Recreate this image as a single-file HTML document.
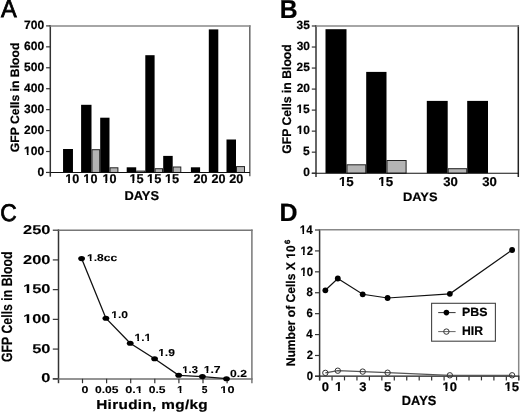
<!DOCTYPE html>
<html><head><meta charset="utf-8"><style>
html,body{margin:0;padding:0;background:#fff;}
svg{display:block;will-change:transform;}
text{font-family:"Liberation Sans", sans-serif;text-rendering:geometricPrecision;}
</style></head><body>
<svg width="520" height="412" viewBox="0 0 520 412">
<rect width="520" height="412" fill="#fff"/>
<text transform="translate(1.04,17.20) scale(0.947,1)" font-size="24.87" font-weight="normal" stroke="#000" stroke-width="0.8">A</text>
<text transform="translate(0.26,220.75) scale(0.937,1)" font-size="24.30" font-weight="normal" stroke="#000" stroke-width="0.8">C</text>
<text transform="translate(279.83,17.50) scale(0.956,1)" font-size="25.89" font-weight="bold" stroke="#000" stroke-width="0.2">B</text>
<text transform="translate(279.61,221.30) scale(0.998,1)" font-size="25.02" font-weight="bold" stroke="#000" stroke-width="0.2">D</text>
<rect x="63.05" y="149.00" width="9.91" height="23.45" fill="#000"/>
<rect x="81.10" y="104.80" width="10.40" height="67.65" fill="#000"/>
<rect x="92.00" y="149.70" width="7.70" height="22.75" fill="#b4b4b4" stroke="#222" stroke-width="1"/>
<rect x="100.20" y="117.70" width="9.30" height="54.75" fill="#000"/>
<rect x="110.00" y="167.80" width="7.90" height="4.65" fill="#b4b4b4" stroke="#222" stroke-width="1"/>
<rect x="126.70" y="167.30" width="9.50" height="5.15" fill="#000"/>
<rect x="136.70" y="171.10" width="8.10" height="1.35" fill="#b4b4b4" stroke="#222" stroke-width="1"/>
<rect x="145.30" y="55.20" width="9.30" height="117.25" fill="#000"/>
<rect x="155.10" y="168.70" width="7.40" height="3.75" fill="#b4b4b4" stroke="#222" stroke-width="1"/>
<rect x="163.20" y="155.90" width="9.50" height="16.55" fill="#000"/>
<rect x="173.20" y="167.00" width="7.60" height="5.45" fill="#b4b4b4" stroke="#222" stroke-width="1"/>
<rect x="190.90" y="167.30" width="9.20" height="5.15" fill="#000"/>
<rect x="208.80" y="29.40" width="9.50" height="143.05" fill="#000"/>
<rect x="226.50" y="139.50" width="9.50" height="32.95" fill="#000"/>
<rect x="236.50" y="166.60" width="8.00" height="5.85" fill="#b4b4b4" stroke="#222" stroke-width="1"/>
<line x1="50.30" y1="25.20" x2="50.30" y2="176.70" stroke="#333333" stroke-width="1.5"/>
<line x1="249.80" y1="25.20" x2="249.80" y2="176.20" stroke="#666" stroke-width="1.5"/>
<line x1="50.00" y1="25.90" x2="250.50" y2="25.90" stroke="#888888" stroke-width="1.5"/>
<line x1="46.00" y1="172.45" x2="250.00" y2="172.45" stroke="#111" stroke-width="1.1"/>
<line x1="46.10" y1="172.45" x2="50.30" y2="172.45" stroke="#333333" stroke-width="1.2"/>
<text transform="translate(37.50,175.70) scale(1.000,1)" font-size="12.04" font-weight="bold" stroke="#000" stroke-width="0.2">0</text>
<line x1="46.10" y1="151.51" x2="50.30" y2="151.51" stroke="#333333" stroke-width="1.2"/>
<g transform="translate(24.10,154.76) scale(1.000,1)"><text font-size="12.04" font-weight="bold" stroke="#000" stroke-width="0.2">100</text><rect x="-0.44" y="-2.13" width="3.23" height="3.03" fill="#fff"/><rect x="4.49" y="-2.13" width="2.57" height="3.03" fill="#fff"/></g>
<line x1="46.10" y1="130.58" x2="50.30" y2="130.58" stroke="#333333" stroke-width="1.2"/>
<text transform="translate(24.10,133.83) scale(1.000,1)" font-size="12.04" font-weight="bold" stroke="#000" stroke-width="0.2">200</text>
<line x1="46.10" y1="109.64" x2="50.30" y2="109.64" stroke="#333333" stroke-width="1.2"/>
<text transform="translate(24.10,112.89) scale(1.000,1)" font-size="12.04" font-weight="bold" stroke="#000" stroke-width="0.2">300</text>
<line x1="46.10" y1="88.71" x2="50.30" y2="88.71" stroke="#333333" stroke-width="1.2"/>
<text transform="translate(24.10,91.96) scale(1.000,1)" font-size="12.04" font-weight="bold" stroke="#000" stroke-width="0.2">400</text>
<line x1="46.10" y1="67.77" x2="50.30" y2="67.77" stroke="#333333" stroke-width="1.2"/>
<text transform="translate(24.10,71.02) scale(1.000,1)" font-size="12.04" font-weight="bold" stroke="#000" stroke-width="0.2">500</text>
<line x1="46.10" y1="46.84" x2="50.30" y2="46.84" stroke="#333333" stroke-width="1.2"/>
<text transform="translate(24.10,50.09) scale(1.000,1)" font-size="12.04" font-weight="bold" stroke="#000" stroke-width="0.2">600</text>
<line x1="46.10" y1="25.90" x2="50.30" y2="25.90" stroke="#333333" stroke-width="1.2"/>
<text transform="translate(24.10,29.15) scale(1.000,1)" font-size="12.04" font-weight="bold" stroke="#000" stroke-width="0.2">700</text>
<g transform="translate(65.22,183.20) scale(1.000,1)"><text font-size="12.62" font-weight="bold" stroke="#000" stroke-width="0.2">10</text><rect x="-0.41" y="-2.19" width="3.32" height="3.09" fill="#fff"/><rect x="4.70" y="-2.19" width="2.66" height="3.09" fill="#fff"/></g>
<g transform="translate(83.37,183.20) scale(1.000,1)"><text font-size="12.62" font-weight="bold" stroke="#000" stroke-width="0.2">10</text><rect x="-0.41" y="-2.19" width="3.32" height="3.09" fill="#fff"/><rect x="4.70" y="-2.19" width="2.66" height="3.09" fill="#fff"/></g>
<g transform="translate(102.42,183.20) scale(1.000,1)"><text font-size="12.62" font-weight="bold" stroke="#000" stroke-width="0.2">10</text><rect x="-0.41" y="-2.19" width="3.32" height="3.09" fill="#fff"/><rect x="4.70" y="-2.19" width="2.66" height="3.09" fill="#fff"/></g>
<g transform="translate(129.39,183.20) scale(1.000,1)"><text font-size="12.80" font-weight="bold" stroke="#000" stroke-width="0.2">15</text><rect x="-0.39" y="-2.21" width="3.36" height="3.11" fill="#fff"/><rect x="4.77" y="-2.21" width="2.69" height="3.11" fill="#fff"/></g>
<g transform="translate(147.04,183.20) scale(1.000,1)"><text font-size="12.80" font-weight="bold" stroke="#000" stroke-width="0.2">15</text><rect x="-0.39" y="-2.21" width="3.36" height="3.11" fill="#fff"/><rect x="4.77" y="-2.21" width="2.69" height="3.11" fill="#fff"/></g>
<g transform="translate(164.89,183.20) scale(1.000,1)"><text font-size="12.80" font-weight="bold" stroke="#000" stroke-width="0.2">15</text><rect x="-0.39" y="-2.21" width="3.36" height="3.11" fill="#fff"/><rect x="4.77" y="-2.21" width="2.69" height="3.11" fill="#fff"/></g>
<text transform="translate(193.43,183.20) scale(1.000,1)" font-size="12.62" font-weight="bold" stroke="#000" stroke-width="0.2">20</text>
<text transform="translate(211.43,183.20) scale(1.000,1)" font-size="12.62" font-weight="bold" stroke="#000" stroke-width="0.2">20</text>
<text transform="translate(229.28,183.20) scale(1.000,1)" font-size="12.62" font-weight="bold" stroke="#000" stroke-width="0.2">20</text>
<text transform="translate(124.43,199.75) scale(0.997,1)" font-size="12.90" font-weight="bold" stroke="#000" stroke-width="0.2">DAYS</text>
<text transform="translate(19.20,152.19) rotate(-90) scale(1.006,1)" font-size="12.14" font-weight="bold" stroke="#000" stroke-width="0.2">GFP Cells in Blood</text>
<rect x="325.50" y="29.20" width="21.00" height="144.00" fill="#000"/>
<rect x="366.20" y="71.90" width="20.30" height="101.30" fill="#000"/>
<rect x="426.80" y="100.90" width="20.90" height="72.30" fill="#000"/>
<rect x="467.20" y="100.90" width="20.80" height="72.30" fill="#000"/>
<rect x="347.00" y="164.80" width="18.70" height="8.40" fill="#b4b4b4" stroke="#222" stroke-width="1"/>
<rect x="387.00" y="160.50" width="19.10" height="12.70" fill="#b4b4b4" stroke="#222" stroke-width="1"/>
<rect x="448.20" y="168.70" width="18.50" height="4.50" fill="#b4b4b4" stroke="#222" stroke-width="1"/>
<line x1="316.00" y1="25.20" x2="316.00" y2="177.00" stroke="#333333" stroke-width="1.5"/>
<line x1="518.30" y1="25.20" x2="518.30" y2="177.00" stroke="#222" stroke-width="1.5"/>
<line x1="315.50" y1="26.00" x2="519.00" y2="26.00" stroke="#888888" stroke-width="1.5"/>
<line x1="311.80" y1="173.20" x2="519.00" y2="173.20" stroke="#111" stroke-width="1.1"/>
<line x1="311.80" y1="173.20" x2="316.00" y2="173.20" stroke="#333333" stroke-width="1.2"/>
<text transform="translate(303.32,176.35) scale(1.000,1)" font-size="11.90" font-weight="bold" stroke="#000" stroke-width="0.2">0</text>
<line x1="311.80" y1="152.17" x2="316.00" y2="152.17" stroke="#333333" stroke-width="1.2"/>
<text transform="translate(303.08,155.32) scale(1.000,1)" font-size="12.07" font-weight="bold" stroke="#000" stroke-width="0.2">5</text>
<line x1="311.80" y1="131.14" x2="316.00" y2="131.14" stroke="#333333" stroke-width="1.2"/>
<g transform="translate(296.72,134.29) scale(1.000,1)"><text font-size="11.90" font-weight="bold" stroke="#000" stroke-width="0.2">10</text><rect x="-0.45" y="-2.11" width="3.20" height="3.01" fill="#fff"/><rect x="4.43" y="-2.11" width="2.55" height="3.01" fill="#fff"/></g>
<line x1="311.80" y1="110.11" x2="316.00" y2="110.11" stroke="#333333" stroke-width="1.2"/>
<g transform="translate(296.38,113.26) scale(1.000,1)"><text font-size="12.07" font-weight="bold" stroke="#000" stroke-width="0.2">15</text><rect x="-0.44" y="-2.13" width="3.23" height="3.03" fill="#fff"/><rect x="4.50" y="-2.13" width="2.58" height="3.03" fill="#fff"/></g>
<line x1="311.80" y1="89.09" x2="316.00" y2="89.09" stroke="#333333" stroke-width="1.2"/>
<text transform="translate(296.72,92.24) scale(1.000,1)" font-size="11.90" font-weight="bold" stroke="#000" stroke-width="0.2">20</text>
<line x1="311.80" y1="68.06" x2="316.00" y2="68.06" stroke="#333333" stroke-width="1.2"/>
<text transform="translate(296.57,71.21) scale(1.000,1)" font-size="11.90" font-weight="bold" stroke="#000" stroke-width="0.2">25</text>
<line x1="311.80" y1="47.03" x2="316.00" y2="47.03" stroke="#333333" stroke-width="1.2"/>
<text transform="translate(296.72,50.18) scale(1.000,1)" font-size="11.90" font-weight="bold" stroke="#000" stroke-width="0.2">30</text>
<line x1="311.80" y1="26.00" x2="316.00" y2="26.00" stroke="#333333" stroke-width="1.2"/>
<text transform="translate(296.57,29.15) scale(1.000,1)" font-size="11.90" font-weight="bold" stroke="#000" stroke-width="0.2">35</text>
<g transform="translate(338.92,185.75) scale(1.020,1)"><text font-size="13.09" font-weight="bold" stroke="#000" stroke-width="0.2">15</text><rect x="-0.35" y="-2.24" width="3.38" height="3.14" fill="#fff"/><rect x="4.88" y="-2.24" width="2.72" height="3.14" fill="#fff"/></g>
<g transform="translate(378.32,185.75) scale(1.020,1)"><text font-size="13.09" font-weight="bold" stroke="#000" stroke-width="0.2">15</text><rect x="-0.35" y="-2.24" width="3.38" height="3.14" fill="#fff"/><rect x="4.88" y="-2.24" width="2.72" height="3.14" fill="#fff"/></g>
<text transform="translate(443.21,185.75) scale(1.020,1)" font-size="12.90" font-weight="bold" stroke="#000" stroke-width="0.2">30</text>
<text transform="translate(482.31,185.75) scale(1.020,1)" font-size="12.90" font-weight="bold" stroke="#000" stroke-width="0.2">30</text>
<text transform="translate(402.93,200.80) scale(1.044,1)" font-size="12.33" font-weight="bold" stroke="#000" stroke-width="0.2">DAYS</text>
<text transform="translate(290.70,153.79) rotate(-90) scale(0.972,1)" font-size="12.55" font-weight="bold" stroke="#000" stroke-width="0.2">GFP Cells in Blood</text>
<line x1="58.50" y1="229.50" x2="58.50" y2="383.20" stroke="#333333" stroke-width="1.5"/>
<line x1="251.90" y1="229.50" x2="251.90" y2="383.20" stroke="#777" stroke-width="1.5"/>
<line x1="58.00" y1="230.20" x2="252.60" y2="230.20" stroke="#777" stroke-width="1.5"/>
<line x1="52.80" y1="379.00" x2="252.60" y2="379.00" stroke="#707070" stroke-width="1.5"/>
<line x1="52.80" y1="378.80" x2="58.50" y2="378.80" stroke="#333333" stroke-width="1.2"/>
<text transform="translate(41.32,382.40) scale(1.290,1)" font-size="12.76" font-weight="bold" stroke="#000" stroke-width="0.1">0</text>
<line x1="52.80" y1="349.08" x2="58.50" y2="349.08" stroke="#333333" stroke-width="1.2"/>
<text transform="translate(32.19,352.68) scale(1.290,1)" font-size="12.76" font-weight="bold" stroke="#000" stroke-width="0.1">50</text>
<line x1="52.80" y1="319.36" x2="58.50" y2="319.36" stroke="#333333" stroke-width="1.2"/>
<g transform="translate(23.01,322.96) scale(1.290,1)"><text font-size="12.76" font-weight="bold" stroke="#000" stroke-width="0.1">100</text><rect x="-0.13" y="-2.20" width="3.08" height="3.10" fill="#fff"/><rect x="4.75" y="-2.20" width="2.53" height="3.10" fill="#fff"/></g>
<line x1="52.80" y1="289.64" x2="58.50" y2="289.64" stroke="#333333" stroke-width="1.2"/>
<g transform="translate(23.01,293.24) scale(1.290,1)"><text font-size="12.76" font-weight="bold" stroke="#000" stroke-width="0.1">150</text><rect x="-0.13" y="-2.20" width="3.08" height="3.10" fill="#fff"/><rect x="4.75" y="-2.20" width="2.53" height="3.10" fill="#fff"/></g>
<line x1="52.80" y1="259.92" x2="58.50" y2="259.92" stroke="#333333" stroke-width="1.2"/>
<text transform="translate(23.01,263.52) scale(1.290,1)" font-size="12.76" font-weight="bold" stroke="#000" stroke-width="0.1">200</text>
<line x1="52.80" y1="230.20" x2="58.50" y2="230.20" stroke="#333333" stroke-width="1.2"/>
<text transform="translate(23.01,233.80) scale(1.290,1)" font-size="12.76" font-weight="bold" stroke="#000" stroke-width="0.1">250</text>
<line x1="82.50" y1="378.80" x2="82.50" y2="383.20" stroke="#333333" stroke-width="1.2"/>
<line x1="106.60" y1="378.80" x2="106.60" y2="383.20" stroke="#333333" stroke-width="1.2"/>
<line x1="130.70" y1="378.80" x2="130.70" y2="383.20" stroke="#333333" stroke-width="1.2"/>
<line x1="154.80" y1="378.80" x2="154.80" y2="383.20" stroke="#333333" stroke-width="1.2"/>
<line x1="178.90" y1="378.80" x2="178.90" y2="383.20" stroke="#333333" stroke-width="1.2"/>
<line x1="203.00" y1="378.80" x2="203.00" y2="383.20" stroke="#333333" stroke-width="1.2"/>
<line x1="227.10" y1="378.80" x2="227.10" y2="383.20" stroke="#333333" stroke-width="1.2"/>
<text transform="translate(81.40,392.90) scale(1.256,1)" font-size="9.89" font-weight="bold" stroke="#000" stroke-width="0.1">0</text>
<text transform="translate(95.07,392.90) scale(1.220,1)" font-size="9.89" font-weight="bold" stroke="#000" stroke-width="0.1">0.05</text>
<g transform="translate(125.29,392.90) scale(1.284,1)"><text font-size="9.89" font-weight="bold" stroke="#000" stroke-width="0.1">0.1</text><rect x="7.94" y="-1.91" width="2.60" height="2.81" fill="#fff"/><rect x="11.94" y="-1.91" width="2.08" height="2.81" fill="#fff"/></g>
<text transform="translate(148.72,392.90) scale(1.223,1)" font-size="9.89" font-weight="bold" stroke="#000" stroke-width="0.1">0.5</text>
<text transform="translate(201.79,392.90) scale(1.021,1)" font-size="10.04" font-weight="bold" stroke="#000" stroke-width="0.1">5</text>
<g transform="translate(220.34,392.90) scale(1.281,1)"><text font-size="9.89" font-weight="bold" stroke="#000" stroke-width="0.1">10</text><rect x="-0.31" y="-1.91" width="2.60" height="2.81" fill="#fff"/><rect x="3.69" y="-1.91" width="2.08" height="2.81" fill="#fff"/></g>
<g transform="translate(177.07,392.90) scale(1.150,1)"><text font-size="10.04" font-weight="bold" stroke="#000" stroke-width="0.1">1</text><rect x="-0.41" y="-1.92" width="2.73" height="2.82" fill="#fff"/><rect x="3.74" y="-1.92" width="2.16" height="2.82" fill="#fff"/></g>
<text transform="translate(96.17,409.00) scale(1.170,1)" font-size="13.10" font-weight="bold" letter-spacing="0.284" stroke="#000" stroke-width="0.2">Hirudin, mg/kg</text>
<text transform="translate(12.00,361.99) rotate(-90) scale(0.826,1)" font-size="14.90" font-weight="bold" stroke="#000" stroke-width="0.15">GFP Cells in Blood</text>
<polyline points="81.6,258.6 105.9,318.2 130.2,343.3 154.6,358.8 178.7,375.3 202.4,376.6 226.5,378.7" fill="none" stroke="#111" stroke-width="1.3"/>
<ellipse cx="81.6" cy="258.6" rx="3.4" ry="2.55" fill="#000"/>
<ellipse cx="105.9" cy="318.2" rx="3.4" ry="2.55" fill="#000"/>
<ellipse cx="130.2" cy="343.3" rx="3.4" ry="2.55" fill="#000"/>
<ellipse cx="154.6" cy="358.8" rx="3.4" ry="2.55" fill="#000"/>
<ellipse cx="178.7" cy="375.3" rx="3.4" ry="2.55" fill="#000"/>
<ellipse cx="202.4" cy="376.6" rx="3.4" ry="2.55" fill="#000"/>
<ellipse cx="226.5" cy="378.7" rx="3.4" ry="2.55" fill="#000"/>
<g transform="translate(87.08,260.50) scale(1.218,1)"><text font-size="9.89" font-weight="bold" stroke="#000" stroke-width="0.1">1.8cc</text><rect x="-0.36" y="-1.91" width="2.65" height="2.81" fill="#fff"/><rect x="3.69" y="-1.91" width="2.11" height="2.81" fill="#fff"/></g>
<g transform="translate(111.18,317.50) scale(1.222,1)"><text font-size="9.89" font-weight="bold" stroke="#000" stroke-width="0.1">1.0</text><rect x="-0.36" y="-1.91" width="2.64" height="2.81" fill="#fff"/><rect x="3.69" y="-1.91" width="2.11" height="2.81" fill="#fff"/></g>
<g transform="translate(134.59,340.80) scale(1.158,1)"><text font-size="10.33" font-weight="bold" stroke="#000" stroke-width="0.1">1.1</text><rect x="-0.39" y="-1.95" width="2.77" height="2.85" fill="#fff"/><rect x="3.85" y="-1.95" width="2.21" height="2.85" fill="#fff"/><rect x="8.23" y="-1.95" width="2.77" height="2.85" fill="#fff"/><rect x="12.46" y="-1.95" width="2.21" height="2.85" fill="#fff"/></g>
<g transform="translate(158.18,356.20) scale(1.200,1)"><text font-size="10.04" font-weight="bold" stroke="#000" stroke-width="0.1">1.9</text><rect x="-0.37" y="-1.92" width="2.69" height="2.82" fill="#fff"/><rect x="3.74" y="-1.92" width="2.14" height="2.82" fill="#fff"/></g>
<g transform="translate(182.33,373.10) scale(1.139,1)"><text font-size="9.89" font-weight="bold" stroke="#000" stroke-width="0.1">1.3</text><rect x="-0.43" y="-1.91" width="2.72" height="2.81" fill="#fff"/><rect x="3.69" y="-1.91" width="2.15" height="2.81" fill="#fff"/></g>
<g transform="translate(203.67,373.10) scale(1.215,1)"><text font-size="10.04" font-weight="bold" stroke="#000" stroke-width="0.1">1.7</text><rect x="-0.36" y="-1.92" width="2.67" height="2.82" fill="#fff"/><rect x="3.74" y="-1.92" width="2.13" height="2.82" fill="#fff"/></g>
<text transform="translate(230.11,376.50) scale(1.192,1)" font-size="10.18" font-weight="bold" stroke="#000" stroke-width="0.1">0.2</text>
<line x1="319.60" y1="229.10" x2="319.60" y2="380.40" stroke="#333333" stroke-width="1.5"/>
<line x1="518.70" y1="229.10" x2="518.70" y2="380.40" stroke="#888" stroke-width="1.5"/>
<line x1="319.00" y1="229.80" x2="519.40" y2="229.80" stroke="#888888" stroke-width="1.5"/>
<line x1="315.00" y1="376.20" x2="519.40" y2="376.20" stroke="#1a1a1a" stroke-width="1.2"/>
<line x1="315.00" y1="376.40" x2="319.60" y2="376.40" stroke="#333333" stroke-width="1.2"/>
<text transform="translate(306.67,380.10) scale(0.940,1)" font-size="12.04" font-weight="bold" stroke="#000" stroke-width="0.2">0</text>
<line x1="315.00" y1="355.49" x2="319.60" y2="355.49" stroke="#333333" stroke-width="1.2"/>
<text transform="translate(306.67,359.19) scale(0.940,1)" font-size="12.04" font-weight="bold" stroke="#000" stroke-width="0.2">2</text>
<line x1="315.00" y1="334.57" x2="319.60" y2="334.57" stroke="#333333" stroke-width="1.2"/>
<text transform="translate(306.18,338.27) scale(0.940,1)" font-size="12.22" font-weight="bold" stroke="#000" stroke-width="0.2">4</text>
<line x1="315.00" y1="313.66" x2="319.60" y2="313.66" stroke="#333333" stroke-width="1.2"/>
<text transform="translate(306.61,317.36) scale(0.940,1)" font-size="12.04" font-weight="bold" stroke="#000" stroke-width="0.2">6</text>
<line x1="315.00" y1="292.74" x2="319.60" y2="292.74" stroke="#333333" stroke-width="1.2"/>
<text transform="translate(306.56,296.44) scale(0.940,1)" font-size="12.04" font-weight="bold" stroke="#000" stroke-width="0.2">8</text>
<line x1="315.00" y1="271.83" x2="319.60" y2="271.83" stroke="#333333" stroke-width="1.2"/>
<g transform="translate(300.39,275.53) scale(0.940,1)"><text font-size="12.04" font-weight="bold" stroke="#000" stroke-width="0.2">10</text><rect x="-0.52" y="-2.13" width="3.30" height="3.03" fill="#fff"/><rect x="4.49" y="-2.13" width="2.62" height="3.03" fill="#fff"/></g>
<line x1="315.00" y1="250.91" x2="319.60" y2="250.91" stroke="#333333" stroke-width="1.2"/>
<g transform="translate(300.39,254.61) scale(0.940,1)"><text font-size="12.04" font-weight="bold" stroke="#000" stroke-width="0.2">12</text><rect x="-0.52" y="-2.13" width="3.30" height="3.03" fill="#fff"/><rect x="4.49" y="-2.13" width="2.62" height="3.03" fill="#fff"/></g>
<line x1="315.00" y1="230.00" x2="319.60" y2="230.00" stroke="#333333" stroke-width="1.2"/>
<g transform="translate(299.81,233.70) scale(0.940,1)"><text font-size="12.22" font-weight="bold" stroke="#000" stroke-width="0.2">14</text><rect x="-0.51" y="-2.15" width="3.33" height="3.05" fill="#fff"/><rect x="4.55" y="-2.15" width="2.64" height="3.05" fill="#fff"/></g>
<line x1="319.60" y1="376.40" x2="319.60" y2="380.40" stroke="#333333" stroke-width="1.2"/>
<line x1="332.05" y1="376.40" x2="332.05" y2="380.40" stroke="#333333" stroke-width="1.2"/>
<line x1="344.50" y1="376.40" x2="344.50" y2="380.40" stroke="#333333" stroke-width="1.2"/>
<line x1="356.95" y1="376.40" x2="356.95" y2="380.40" stroke="#333333" stroke-width="1.2"/>
<line x1="369.40" y1="376.40" x2="369.40" y2="380.40" stroke="#333333" stroke-width="1.2"/>
<line x1="381.85" y1="376.40" x2="381.85" y2="380.40" stroke="#333333" stroke-width="1.2"/>
<line x1="394.30" y1="376.40" x2="394.30" y2="380.40" stroke="#333333" stroke-width="1.2"/>
<line x1="406.75" y1="376.40" x2="406.75" y2="380.40" stroke="#333333" stroke-width="1.2"/>
<line x1="419.20" y1="376.40" x2="419.20" y2="380.40" stroke="#333333" stroke-width="1.2"/>
<line x1="431.65" y1="376.40" x2="431.65" y2="380.40" stroke="#333333" stroke-width="1.2"/>
<line x1="444.10" y1="376.40" x2="444.10" y2="380.40" stroke="#333333" stroke-width="1.2"/>
<line x1="456.55" y1="376.40" x2="456.55" y2="380.40" stroke="#333333" stroke-width="1.2"/>
<line x1="469.00" y1="376.40" x2="469.00" y2="380.40" stroke="#333333" stroke-width="1.2"/>
<line x1="481.45" y1="376.40" x2="481.45" y2="380.40" stroke="#333333" stroke-width="1.2"/>
<line x1="493.90" y1="376.40" x2="493.90" y2="380.40" stroke="#333333" stroke-width="1.2"/>
<line x1="506.35" y1="376.40" x2="506.35" y2="380.40" stroke="#333333" stroke-width="1.2"/>
<line x1="518.80" y1="376.40" x2="518.80" y2="380.40" stroke="#333333" stroke-width="1.2"/>
<text transform="translate(321.75,391.00) scale(1.040,1)" font-size="12.47" font-weight="bold" stroke="#000" stroke-width="0.2">0</text>
<g transform="translate(334.91,391.00) scale(1.040,1)"><text font-size="12.65" font-weight="bold" stroke="#000" stroke-width="0.2">1</text><rect x="-0.36" y="-2.19" width="3.29" height="3.09" fill="#fff"/><rect x="4.71" y="-2.19" width="2.64" height="3.09" fill="#fff"/></g>
<text transform="translate(359.18,391.00) scale(1.040,1)" font-size="12.47" font-weight="bold" stroke="#000" stroke-width="0.2">3</text>
<text transform="translate(383.93,391.00) scale(1.040,1)" font-size="12.65" font-weight="bold" stroke="#000" stroke-width="0.2">5</text>
<g transform="translate(442.47,391.00) scale(1.040,1)"><text font-size="12.47" font-weight="bold" stroke="#000" stroke-width="0.2">10</text><rect x="-0.37" y="-2.17" width="3.25" height="3.07" fill="#fff"/><rect x="4.65" y="-2.17" width="2.61" height="3.07" fill="#fff"/></g>
<g transform="translate(504.53,391.00) scale(1.040,1)"><text font-size="12.65" font-weight="bold" stroke="#000" stroke-width="0.2">15</text><rect x="-0.36" y="-2.19" width="3.29" height="3.09" fill="#fff"/><rect x="4.71" y="-2.19" width="2.64" height="3.09" fill="#fff"/></g>
<text transform="translate(401.84,405.30) scale(0.970,1)" font-size="13.19" font-weight="bold" stroke="#000" stroke-width="0.2">DAYS</text>
<g transform="translate(295.20,366.32) rotate(-90) scale(0.964,1)"><text font-size="12.55" font-weight="bold" stroke="#000" stroke-width="0.2">Number of Cells X 10</text><rect x="111.14" y="-2.18" width="3.36" height="3.08" fill="#fff"/><rect x="116.27" y="-2.18" width="2.68" height="3.08" fill="#fff"/></g>
<text transform="translate(289.6,243.98) rotate(-90) scale(0.1520)" font-size="50" font-weight="bold" stroke="#000" stroke-width="2.30">6</text>
<polyline points="325.35,290.3 337.80,278.5 362.70,294.3 387.60,298.0 449.85,293.8 512.10,250.0" fill="none" stroke="#111" stroke-width="1.2"/>
<polyline points="325.35,372.9 337.80,370.7 362.70,371.6 387.60,372.7 449.85,375.3 512.10,375.3" fill="none" stroke="#555" stroke-width="1.2"/>
<circle cx="325.35" cy="290.3" r="2.9" fill="#000"/>
<circle cx="337.80" cy="278.5" r="2.9" fill="#000"/>
<circle cx="362.70" cy="294.3" r="2.9" fill="#000"/>
<circle cx="387.60" cy="298.0" r="2.9" fill="#000"/>
<circle cx="449.85" cy="293.8" r="2.9" fill="#000"/>
<circle cx="512.10" cy="250.0" r="2.9" fill="#000"/>
<circle cx="325.35" cy="372.9" r="2.7" fill="none" stroke="#333" stroke-width="1"/>
<circle cx="337.80" cy="370.7" r="2.7" fill="none" stroke="#333" stroke-width="1"/>
<circle cx="362.70" cy="371.6" r="2.7" fill="none" stroke="#333" stroke-width="1"/>
<circle cx="387.60" cy="372.7" r="2.7" fill="none" stroke="#333" stroke-width="1"/>
<circle cx="449.85" cy="375.3" r="2.7" fill="none" stroke="#333" stroke-width="1"/>
<circle cx="512.10" cy="375.3" r="2.7" fill="none" stroke="#333" stroke-width="1"/>
<rect x="431.6" y="303.3" width="63.8" height="37.9" fill="#fff" stroke="#444" stroke-width="1.1"/>
<line x1="438.20" y1="312.60" x2="455.60" y2="312.60" stroke="#333" stroke-width="1.0"/>
<circle cx="446.4" cy="312.6" r="2.8" fill="#000"/>
<line x1="438.20" y1="331.60" x2="455.60" y2="331.60" stroke="#666" stroke-width="1"/>
<circle cx="446.4" cy="331.6" r="2.7" fill="none" stroke="#333" stroke-width="1"/>
<text transform="translate(462.07,315.80) scale(1.039,1)" font-size="11.90" font-weight="bold" stroke="#000" stroke-width="0.2">PBS</text>
<text transform="translate(462.08,334.70) scale(0.974,1)" font-size="12.51" font-weight="bold" stroke="#000" stroke-width="0.2">HIR</text>
</svg>
</body></html>
